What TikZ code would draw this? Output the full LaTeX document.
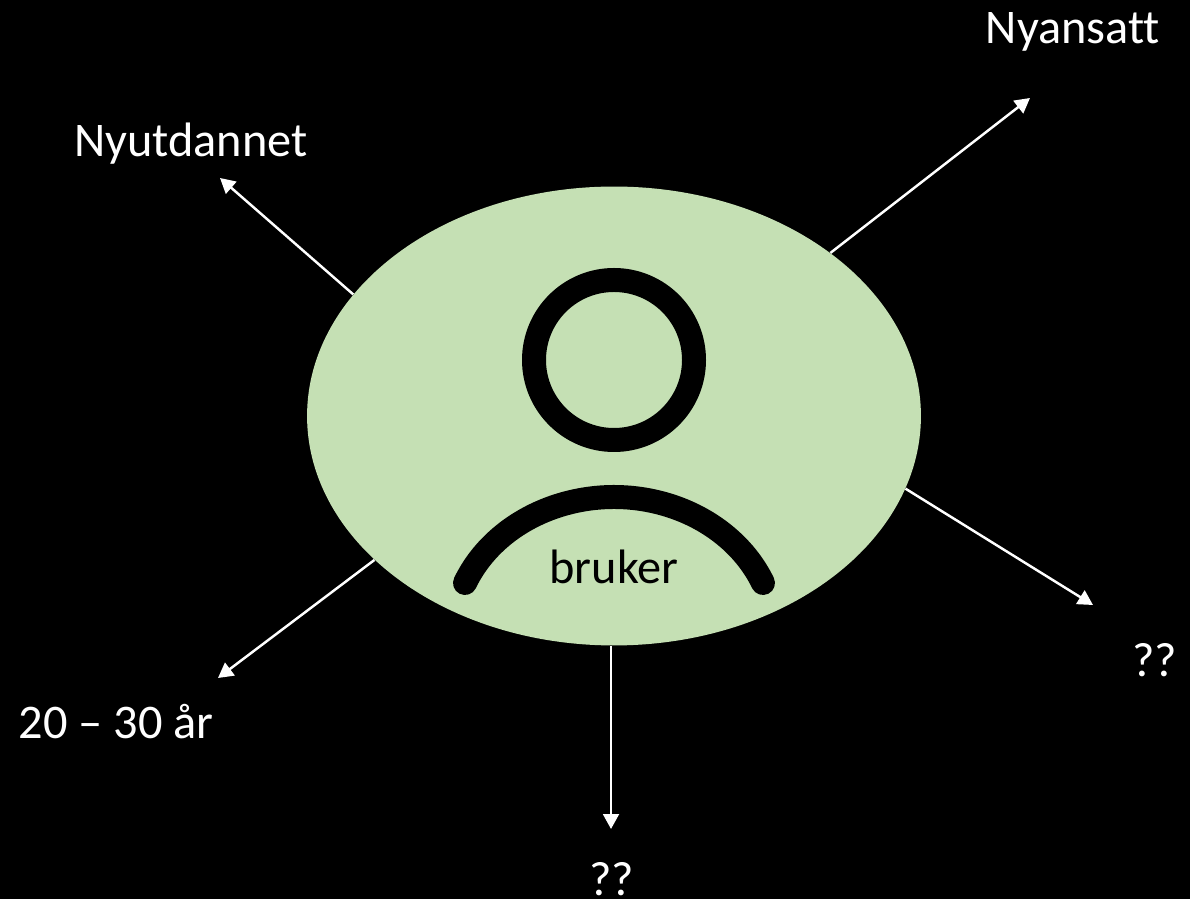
\documentclass[tikz,border=0pt]{standalone}
\usepackage{xcolor}
\usepackage{fontspec}
\usetikzlibrary{shapes.geometric, arrows.meta, positioning}
\setmainfont{Carlito}[Ligatures=NoCommon]
\definecolor{usergreen}{RGB}{197, 224, 180}

\begin{document}
\begin{tikzpicture}[x=0.02cm, y=0.02cm,
    lbl/.style={text=white, font=\fontsize{27.5}{32}\selectfont, inner sep=0pt},
    conn/.style={draw=white, line width=1.4pt, -{Triangle[length=8.5pt, width=9pt]}}]
    \fill[black] (0,0) rectangle (1190,899);
    \useasboundingbox (0,0) rectangle (1190,899);

    \node[ellipse, fill=usergreen, minimum width=12.28cm, minimum height=9.18cm, inner sep=0pt] (user) at (614,483) {};

    % icon
    \draw[line width=0.48cm] (614,539) circle[radius=80];
    \draw[line width=0.48cm, line cap=round] (465,316) arc[start angle=157.3, end angle=22.7, x radius=161.5, y radius=140];
    \node[font=\fontsize{27.5}{32}\selectfont, inner sep=0pt] (bruker) at (614,332) {bruker};

    % labels
    \node[lbl] (nyansatt) at (1073,867) {Nyansatt};
    \node[lbl] (nyutdannet) at (191,755) {Nyutdannet};
    \node[lbl] (qright) at (1155,239) {??};
    \node[lbl] (age) at (116,177) {20 – 30 år};
    \node[lbl] (qbottom) at (612,20) {??};

    % arrow ends
    \coordinate (endnyansatt) at (1030,801);
    \coordinate (endnyutdannet) at (220,721);
    \coordinate (endqright) at (1093,294);
    \coordinate (endage) at (218,221);
    \coordinate (endqbottom) at (611,70);

    \draw[conn] (user.37.2) -- (endnyansatt);
    \draw[conn] (user.155.2) -- (endnyutdannet);
    \draw[conn] (user.-14.3) -- (endqright);
    \draw[conn] (user.211) -- (endage);
    \draw[conn] (endqbottom |- user.south) -- (endqbottom);
\end{tikzpicture}
\end{document}
